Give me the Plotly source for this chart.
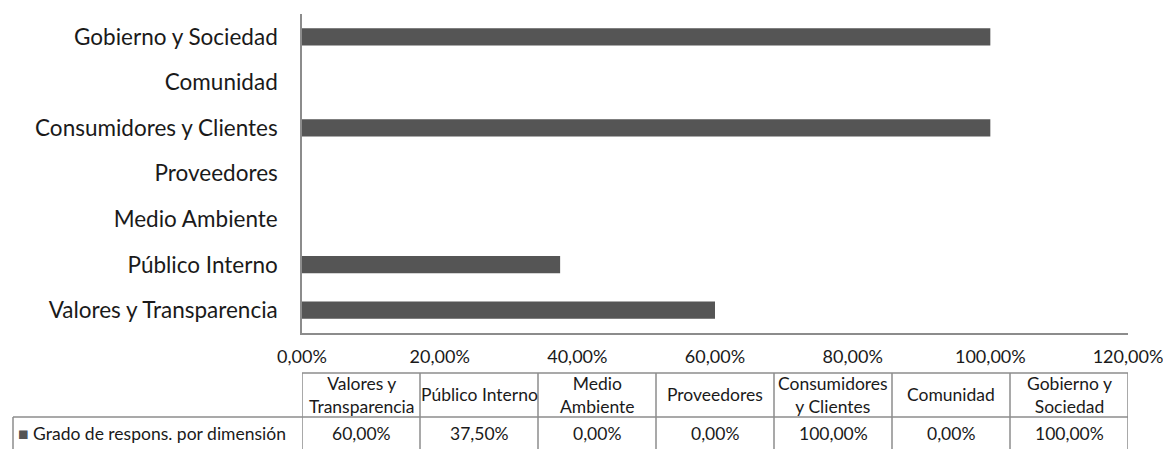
import plotly.graph_objects as go

# data
categories = ["Valores y Transparencia", "Público Interno", "Medio Ambiente",
              "Proveedores", "Consumidores y Clientes", "Comunidad", "Gobierno y Sociedad"]
header_labels = ["Valores y<br>Transparencia", "Público Interno", "Medio<br>Ambiente",
                 "Proveedores", "Consumidores<br>y Clientes", "Comunidad", "Gobierno y<br>Sociedad"]
values = [0.60, 0.375, 0.0, 0.0, 1.0, 0.0, 1.0]
series_name = "Grado de respons. por dimensión"
x_ticks = [0, 0.2, 0.4, 0.6, 0.8, 1.0, 1.2]

W, H = 1163, 449
M_L, M_R, M_T, M_B = 302, 35, 14, 116
plot_h = H - M_T - M_B
plot_w = W - M_L - M_R
FONT = "Lato"
GRID = "#8c8c8c"


def below(px):
    # pixels below the bottom of the plot area -> paper y
    return -px / plot_h


def left_of(px):
    # pixels left of the plot area -> paper x
    return -px / plot_w


fig = go.Figure()
fig.add_trace(go.Bar(
    y=categories, x=values, orientation="h", name=series_name,
    marker=dict(color="#555555", line=dict(width=0)),
    showlegend=False,
))

fig.update_layout(
    width=W, height=H,
    margin=dict(l=M_L, r=M_R, t=M_T, b=M_B, autoexpand=False),
    plot_bgcolor="white", paper_bgcolor="white",
    bargap=0.62,
    separators=",.",
    font=dict(family=FONT, color="#1a1a1a"),
)
fig.update_xaxes(
    range=[0, 1.2], tickvals=x_ticks, tickformat=".2%",
    showgrid=False, zeroline=False, showline=True, linecolor=GRID, linewidth=1.5,
    tickfont=dict(size=18), ticklabelstandoff=7, automargin=False,
    ticklabeloverflow="allow",
)
fig.update_yaxes(
    showgrid=False, showline=True, linecolor=GRID, linewidth=1.5,
    tickfont=dict(size=22.5), ticklabelstandoff=18, automargin=False,
)

# data table under the axis
n = len(categories)
col_w = 1.2 / n
row1_top, row1_bot, row2_bot = 40, 84, 115
line = dict(color=GRID, width=1.5)
fig.add_shape(type="line", xref="x", yref="paper", x0=0, x1=1.2,
              y0=below(row1_top), y1=below(row1_top), line=line)
fig.add_shape(type="line", xref="paper", yref="paper", x0=left_of(M_L - 13), x1=1,
              y0=below(row1_bot), y1=below(row1_bot), line=line)
fig.add_shape(type="line", xref="paper", yref="paper",
              x0=left_of(M_L - 13), x1=left_of(M_L - 13),
              y0=below(row1_bot), y1=below(row2_bot + 5), line=line)
for i in range(n + 1):
    fig.add_shape(type="line", xref="x", yref="paper", x0=i * col_w, x1=i * col_w,
                  y0=below(row1_top), y1=below(row2_bot + 5), line=line)

for i, (lab, v) in enumerate(zip(header_labels, values)):
    xc = (i + 0.5) * col_w
    fig.add_annotation(x=xc, y=below((row1_top + row1_bot) / 2), xref="x", yref="paper",
                       yanchor="middle", text=lab, showarrow=False,
                       font=dict(size=17.5), align="center")
    fig.add_annotation(x=xc, y=below((row1_bot + row2_bot) / 2 + 1), xref="x", yref="paper",
                       yanchor="middle", text=f"{v * 100:.2f}%".replace(".", ","),
                       showarrow=False, font=dict(size=17.5))

fig.add_annotation(x=left_of(M_L - 16), y=below((row1_bot + row2_bot) / 2 + 1),
                   xref="paper", yref="paper", xanchor="left", yanchor="middle",
                   text="<span style='color:#555555'>■</span> " + series_name,
                   showarrow=False, font=dict(size=17.5))

fig.write_html("out.html", config={"displayModeBar": False},
               post_script="document.body.style.margin='0px';")
